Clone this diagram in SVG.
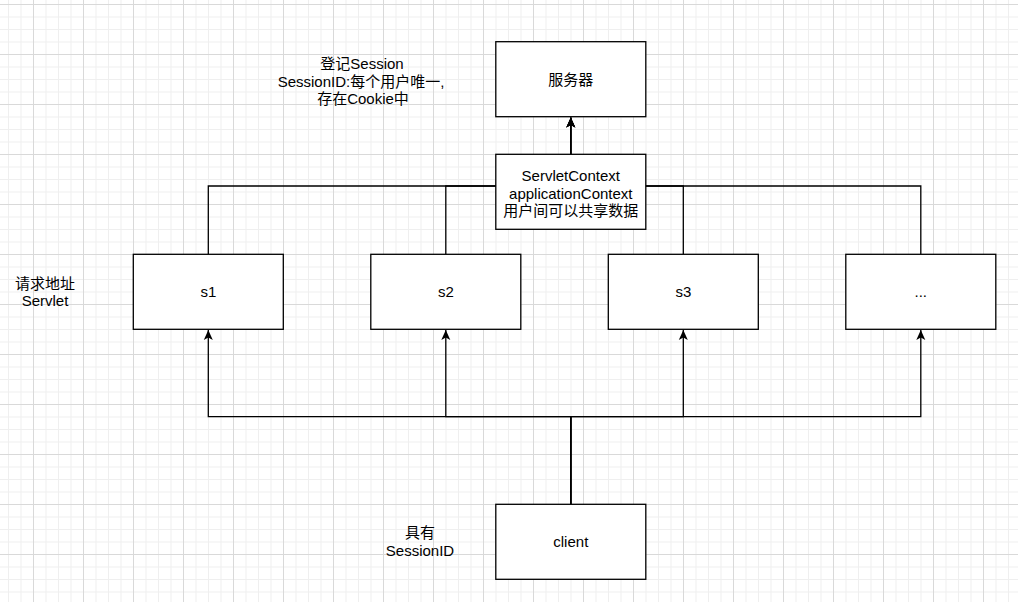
<svg xmlns="http://www.w3.org/2000/svg" width="1018" height="602" viewBox="0 0 1018 602">
  <style>
    .box { fill: #ffffff; stroke: #000000; stroke-width: 1.3; }
    .lbl { font-family: "Liberation Sans", Arial, "Noto Sans CJK SC", sans-serif; font-size: 15px; fill: #000000; text-anchor: middle; }
    .edge { fill: none; stroke: #000000; stroke-width: 1.3; }
  </style>
  <defs>
    <pattern id="grid" x="33" y="4" width="50" height="50" patternUnits="userSpaceOnUse">
      <path d="M13,0 V50 M25.5,0 V50 M38,0 V50 M0,13 H50 M0,25.5 H50 M0,38 H50" stroke="#efefef" stroke-width="1" fill="none"/>
      <path d="M0.5,0 V50 M0,0.5 H50" stroke="#d9d9d9" stroke-width="1" fill="none"/>
    </pattern>
    <marker id="arrow" markerUnits="userSpaceOnUse" markerWidth="10" markerHeight="10" viewBox="0 0 10 10" refX="10" refY="5" orient="auto">
      <path d="M0,0.5 L10,5 L0,9.5 L2.5,5 Z" fill="#000000"/>
    </marker>
  </defs>
  <rect x="0" y="0" width="1018" height="602" fill="#ffffff"/>
  <rect x="0" y="0" width="1018" height="602" fill="url(#grid)"/>

  <g id="connectors">
    <path class="edge" d="M208.3,254.3 V186 H570.8 V117.5" marker-end="url(#arrow)"/>
    <path class="edge" d="M445.8,254.3 V186 H570.8 V117.5" marker-end="url(#arrow)"/>
    <path class="edge" d="M683.3,254.3 V186 H570.8 V117.5" marker-end="url(#arrow)"/>
    <path class="edge" d="M920.8,254.3 V186 H570.8 V117.5" marker-end="url(#arrow)"/>
    <path class="edge" d="M570.8,504.3 V416.7 H208.3 V330" marker-end="url(#arrow)"/>
    <path class="edge" d="M570.8,504.3 V416.7 H445.8 V330" marker-end="url(#arrow)"/>
    <path class="edge" d="M570.8,504.3 V416.7 H683.3 V330" marker-end="url(#arrow)"/>
    <path class="edge" d="M570.8,504.3 V416.7 H920.8 V330" marker-end="url(#arrow)"/>
  </g>

  <g id="server">
    <rect class="box" x="495.8" y="41.7" width="150" height="75"/>
    <text class="lbl" x="570.8" y="84.5">服务器</text>
  </g>
  <g id="servletcontext">
    <rect class="box" x="495.8" y="154.3" width="150" height="75"/>
    <text class="lbl" x="570.8" y="180.5">ServletContext</text>
    <text class="lbl" x="570.8" y="198.5">applicationContext</text>
    <text class="lbl" x="570.8" y="216">用户间可以共享数据</text>
  </g>
  <g id="s1">
    <rect class="box" x="133.3" y="254.3" width="150" height="75"/>
    <text class="lbl" x="208.3" y="297">s1</text>
  </g>
  <g id="s2">
    <rect class="box" x="370.8" y="254.3" width="150" height="75"/>
    <text class="lbl" x="445.8" y="297">s2</text>
  </g>
  <g id="s3">
    <rect class="box" x="608.3" y="254.3" width="150" height="75"/>
    <text class="lbl" x="683.3" y="297">s3</text>
  </g>
  <g id="s4">
    <rect class="box" x="845.8" y="254.3" width="150" height="75"/>
    <text class="lbl" x="920.8" y="297">...</text>
  </g>
  <g id="client">
    <rect class="box" x="495.8" y="504.3" width="150" height="75"/>
    <text class="lbl" x="570.8" y="547">client</text>
  </g>
  <g id="note-session">
    <text class="lbl" x="362" y="68.5">登记Session</text>
    <text class="lbl" x="361" y="87">SessionID:每个用户唯一,</text>
    <text class="lbl" x="363" y="104">存在Cookie中</text>
  </g>
  <g id="note-servlet">
    <text class="lbl" x="45" y="289">请求地址</text>
    <text class="lbl" x="45" y="306">Servlet</text>
  </g>
  <g id="note-client">
    <text class="lbl" x="420" y="538">具有</text>
    <text class="lbl" x="420" y="556">SessionID</text>
  </g>
</svg>
